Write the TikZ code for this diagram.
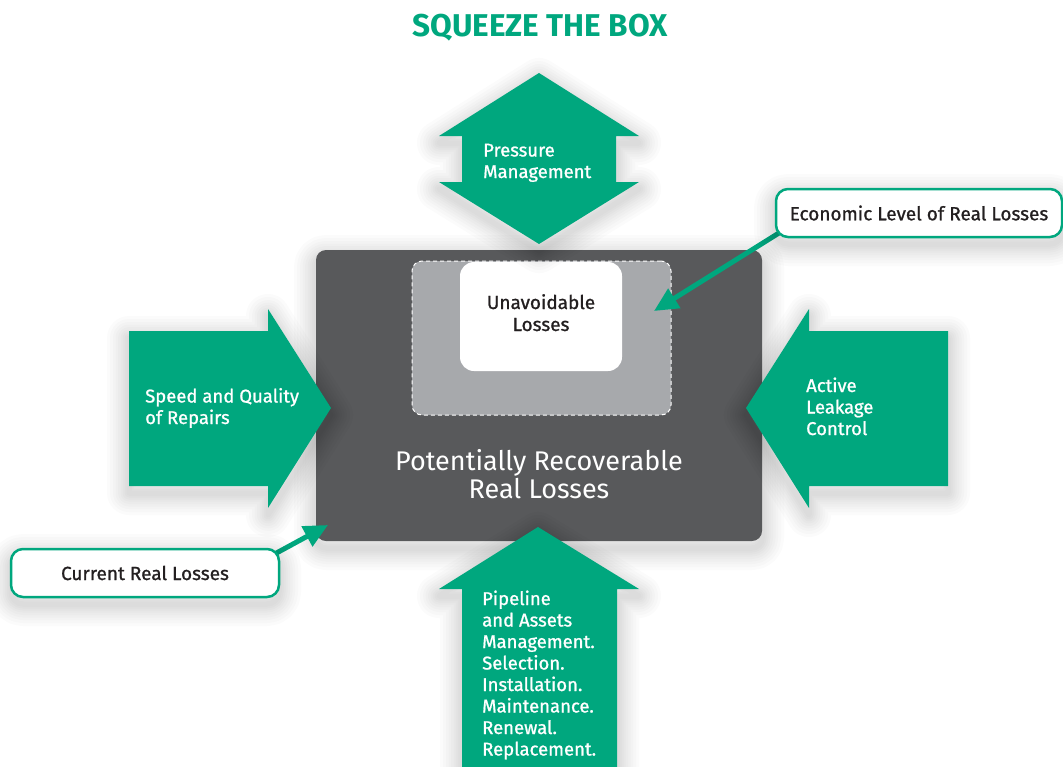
\documentclass[tikz,border=0pt]{standalone}
\usepackage{fontspec}
\setmainfont{Fira Sans}
\newfontfamily\medfont{Fira Sans}[FakeBold=1]
\usetikzlibrary{arrows.meta,calc}
\definecolor{lossgreen}{HTML}{00A77E}
\definecolor{boxdark}{HTML}{58595B}
\definecolor{boxgray}{HTML}{A7A9AC}
\definecolor{inkdark}{HTML}{231F20}
\pgfdeclarelayer{foreground}
\pgfsetlayers{main,foreground}

\begin{document}
\begin{tikzpicture}[x=1pt,y=-1pt,
  % a soft drop shadow built from stacked translucent outlines
  shadowring/.style={preaction={draw=black,opacity=0.016,line width=#1,
      line join=round,transform canvas={yshift=-7pt}}},
  softshadow/.style={shadowring=44pt,shadowring=38pt,shadowring=32pt,shadowring=27pt,
      shadowring=22pt,shadowring=17pt,shadowring=13pt,shadowring=9pt,shadowring=5pt},
  greenarrow/.style={fill=lossgreen,softshadow},
  armlabel/.style={text=white,font=\medfont\fontsize{18.5}{21.5}\selectfont,
      align=left,anchor=base west,inner sep=0pt},
  callout/.style={draw=lossgreen,line width=2.5pt,fill=white,rounded corners=12pt,
      minimum height=48pt,text=inkdark,font=\medfont\fontsize{19}{22}\selectfont,
      softshadow},
  connector/.style={draw=lossgreen,line width=5pt,
      -{Triangle[length=24pt,width=22pt]}},
]
\useasboundingbox (0,0) rectangle (1063,766);

% heading
\node[font=\bfseries\fontsize{31.5}{36}\selectfont,text=lossgreen,anchor=base]
  (title) at (540,36) {SQUEEZE THE BOX};

% the box of recoverable losses
\node[fill=boxdark,rounded corners=10pt,minimum width=446pt,minimum height=291pt,
  softshadow] (recover) at (539,395.5) {};
\node[fill=boxgray,draw=white,line width=1pt,dash pattern=on 4pt off 3pt,
  rounded corners=10pt,minimum width=259pt,minimum height=154pt]
  (economic) at (541.5,338) {};
\node[fill=white,rounded corners=14pt,minimum width=162pt,minimum height=109pt]
  (unavoid) at (541,316.5) {};
% multi-line labels are placed by the baseline of their last line
\node[text=inkdark,font=\medfont\fontsize{19}{22}\selectfont,align=center,
  anchor=base,inner sep=0pt] (unavoidtext) at (541,331) {Unavoidable\\Losses};
\node[text=white,font=\fontsize{27}{28}\selectfont,align=center,anchor=base,
  inner sep=0pt] (recovertext) at (539,498) {Potentially Recoverable\\Real Losses};

% the four squeezing arrows
\fill[greenarrow] (539,73) -- (639,136) -- (616,136) -- (616,182) -- (639,182)
  -- (539,244) -- (439,182) -- (462,182) -- (462,136) -- (439,136) -- cycle;
\fill[greenarrow] (129,331) -- (268,331) -- (268,309) -- (331,408) -- (268,508)
  -- (268,486) -- (129,486) -- cycle;
\fill[greenarrow] (948,331) -- (809,331) -- (809,309) -- (746,408) -- (809,508)
  -- (809,486) -- (948,486) -- cycle;
\fill[greenarrow] (538,527) -- (639,589) -- (617,589) -- (617,772) -- (462,772)
  -- (462,589) -- (439,589) -- cycle;

\node[armlabel] (pressure) at (483,178) {Pressure\\Management};
\node[armlabel] (repairs) at (145,424) {Speed and Quality\\of Repairs};
\node[armlabel] (alc) at (806,435) {Active\\Leakage\\Control};
\node[armlabel] (assets) at (482,755.5) {Pipeline\\and Assets\\Management.\\Selection.\\
  Installation.\\Maintenance.\\Renewal.\\Replacement.};

% callouts
\begin{pgfonlayer}{foreground}
\node[callout,minimum width=286pt] (econ) at (919,213) {Economic Level of Real Losses};
\node[callout,minimum width=268pt] (cur) at (145,573) {Current Real Losses};
\end{pgfonlayer}

\coordinate (econTip) at (654,311);
\coordinate (curTip) at (328,525);
\draw[connector] ($(econ.south west)+(7,-7)$) -- (econTip);
\draw[connector] ($(cur.north east)+(-7,7)$) -- (curTip);
\end{tikzpicture}
\end{document}
